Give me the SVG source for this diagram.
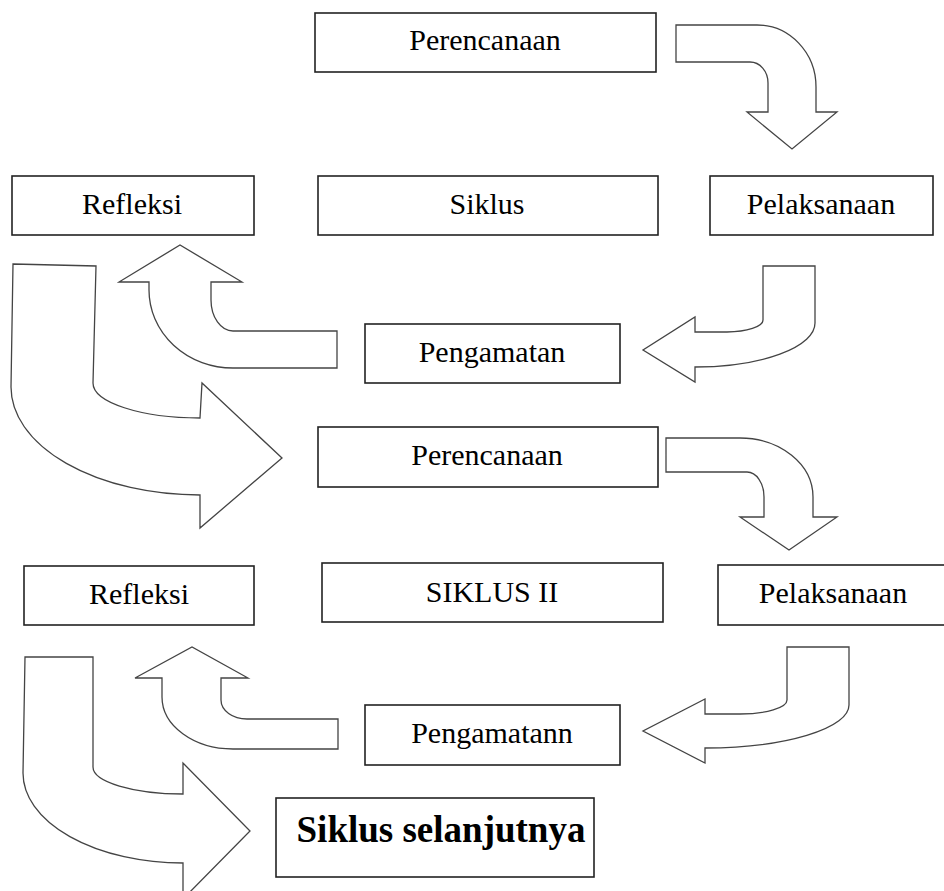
<svg xmlns="http://www.w3.org/2000/svg" width="944" height="891" viewBox="0 0 944 891">
<style>
.box{fill:#fff;stroke:#222;stroke-width:1.6}
.arr{fill:#fff;stroke:#444;stroke-width:1.3;stroke-linejoin:miter}
.t{font-family:"Liberation Serif","Times New Roman",serif;font-size:30px;fill:#000;text-anchor:middle}
.tb{font-family:"Liberation Serif","Times New Roman",serif;font-size:37px;font-weight:bold;fill:#000;text-anchor:middle}
</style>
<rect width="944" height="891" fill="#fff"/>
<g id="connectors">
<path class="arr" d="M676,25 L757,25 A59,62 0 0 1 816,87 L816,112 L837,112 L792,149 L747,112 L768,112 L768,83 A18,21 0 0 0 750,62 L676,62 Z"/>
<path class="arr" d="M763,266 L815,266 L815,323 A120,44 0 0 1 695,367 L695,382 L643,350 L695,317 L695,332 L727,332 A36,12 0 0 0 763,320 Z"/>
<path class="arr" d="M337,331 L337,368 L233,368 A84,78 0 0 1 149,290 L149,282 L119,282 L180,245 L242,282 L211,282 L211,300 A22,31 0 0 0 233,331 Z"/>
<path class="arr" d="M13,264 L96,266 L93,383 A107,35 0 0 0 200,418 L202,383 L282,458 L200,528 L200,495 A189,108 0 0 1 11,387 Z"/>
<path class="arr" d="M666,438 L740,438 A73,59 0 0 1 813,497 L813,517 L837,517 L789,550 L740,517 L764,517 L764,497 A17,25 0 0 0 747,472 L666,472 Z"/>
<path class="arr" d="M787,647 L849,647 L849,705 A144,43 0 0 1 705,748 L705,763 L643,731 L705,699 L705,714 L740,714 A47,14 0 0 0 787,700 Z"/>
<path class="arr" d="M338,719 L338,749 L233,749 A71,52 0 0 1 162,697 L162,678 L135,678 L192,647 L248,678 L221,678 L221,700 A26,19 0 0 0 247,719 Z"/>
<path class="arr" d="M25,657 L93,657 L93,767 A90,27 0 0 0 183,794 L183,763 L250,831 L183,899 L183,863 A160,90 0 0 1 23,773 Z"/>
</g>
<g id="perencanaan1"><rect class="box" x="315" y="13" width="341" height="59"/><text class="t" x="485" y="50">Perencanaan</text></g>
<g id="refleksi1"><rect class="box" x="12" y="176" width="242" height="59"/><text class="t" x="132" y="214">Refleksi</text></g>
<g id="siklus1"><rect class="box" x="318" y="176" width="340" height="59"/><text class="t" x="487" y="214">Siklus</text></g>
<g id="pelaksanaan1"><rect class="box" x="710" y="176" width="223" height="59"/><text class="t" x="821" y="214">Pelaksanaan</text></g>
<g id="pengamatan1"><rect class="box" x="365" y="324" width="255" height="59"/><text class="t" x="492" y="362">Pengamatan</text></g>
<g id="perencanaan2"><rect class="box" x="318" y="427" width="340" height="60"/><text class="t" x="487" y="465">Perencanaan</text></g>
<g id="refleksi2"><rect class="box" x="24" y="566" width="230" height="59"/><text class="t" x="139" y="604">Refleksi</text></g>
<g id="siklus2"><rect class="box" x="322" y="563" width="341" height="59"/><text class="t" x="492" y="602">SIKLUS II</text></g>
<g id="pelaksanaan2"><rect class="box" x="718" y="565" width="230" height="60"/><text class="t" x="833" y="603">Pelaksanaan</text></g>
<g id="pengamatan2"><rect class="box" x="365" y="705" width="255" height="60"/><text class="t" x="492" y="743">Pengamatann</text></g>
<g id="siklus-selanjutnya"><rect class="box" x="276" y="798" width="318" height="79"/><text class="tb" x="441" y="842">Siklus selanjutnya</text></g>
</svg>
